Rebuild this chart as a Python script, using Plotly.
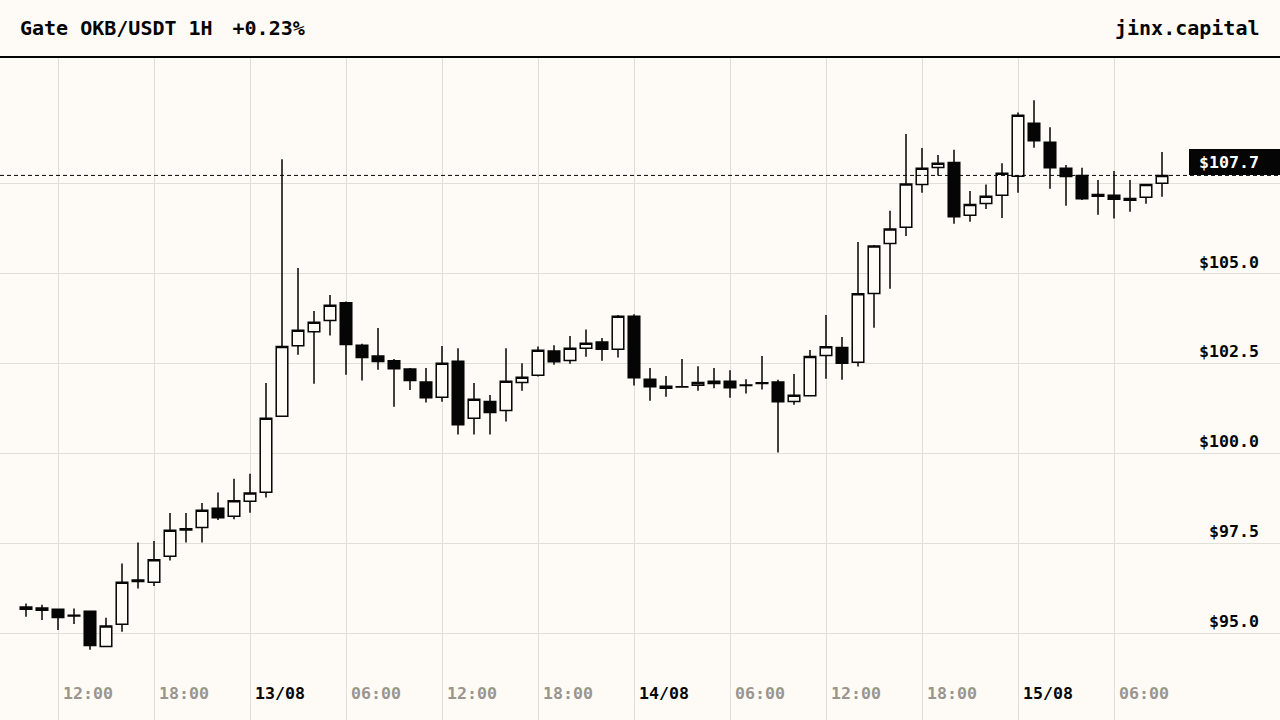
import pandas as pd
import plotly.graph_objects as go

# hourly OKB/USDT candles, 12/08 10:00 -> 15/08 09:00
times = pd.date_range("2024-08-12 10:00", periods=72, freq="h")

opens = [95.67, 95.70, 95.67, 95.50, 95.61, 94.63, 95.25, 96.48, 96.42, 97.14, 97.87, 97.94,
         98.47, 98.25, 98.67, 98.92, 101.03, 102.99, 103.38, 103.69, 104.18, 103.00, 102.70, 102.57,
         102.34, 101.98, 101.56, 102.56, 100.97, 101.44, 101.19, 101.97, 102.17, 102.84, 102.58, 102.92,
         103.09, 102.89, 103.81, 102.06, 101.81, 101.84, 101.89, 101.94, 102.00, 101.88, 101.94, 101.98,
         101.44, 101.60, 102.72, 102.94, 102.53, 104.44, 105.83, 106.28, 107.47, 107.94, 108.08, 106.61,
         106.94, 107.17, 107.70, 109.17, 108.64, 107.92, 107.72, 107.14, 107.17, 107.03, 107.11, 107.50]
highs = [95.83, 95.79, 95.67, 95.69, 95.61, 95.43, 96.94, 97.52, 97.56, 98.34, 98.34, 98.62,
         98.91, 99.29, 99.43, 101.95, 108.17, 105.15, 103.95, 104.40, 104.22, 103.04, 103.48, 102.62,
         102.37, 102.37, 102.98, 102.92, 101.95, 101.62, 102.92, 102.50, 102.97, 103.00, 103.26, 103.44,
         103.20, 103.84, 103.86, 102.37, 102.15, 102.62, 102.42, 102.37, 102.31, 102.06, 102.70, 102.04,
         102.20, 102.87, 103.84, 103.23, 105.87, 105.79, 106.74, 108.87, 108.48, 108.29, 108.43, 107.29,
         107.47, 108.06, 109.47, 109.81, 109.06, 108.01, 107.93, 107.59, 107.84, 107.59, 107.47, 108.37]
lows = [95.46, 95.37, 95.09, 95.26, 94.54, 94.63, 95.04, 96.24, 96.31, 97.02, 97.52, 97.52,
        98.15, 98.17, 98.35, 98.77, 101.03, 102.74, 101.93, 103.27, 102.18, 102.02, 102.32, 101.29,
        101.76, 101.41, 101.43, 100.52, 100.52, 100.52, 100.88, 101.74, 102.13, 102.46, 102.49, 102.68,
        102.57, 102.66, 101.88, 101.46, 101.57, 101.84, 101.74, 101.81, 101.54, 101.66, 101.77, 100.02,
        101.35, 101.60, 102.07, 102.04, 102.41, 103.49, 104.57, 106.04, 107.24, 107.72, 106.38, 106.43,
        106.79, 106.54, 107.24, 108.49, 107.35, 106.88, 107.04, 106.63, 106.52, 106.71, 106.93, 107.13]
closes = [95.73, 95.64, 95.44, 95.48, 94.66, 95.20, 96.42, 96.44, 97.04, 97.86, 97.90, 98.42,
          98.21, 98.68, 98.90, 100.97, 102.97, 103.42, 103.64, 104.11, 103.02, 102.66, 102.55, 102.35,
          102.02, 101.54, 102.50, 100.79, 101.50, 101.13, 102.00, 102.11, 102.86, 102.54, 102.92, 103.06,
          102.89, 103.81, 102.10, 101.85, 101.86, 101.85, 101.97, 102.00, 101.82, 101.90, 101.96, 101.43,
          101.61, 102.69, 102.96, 102.50, 104.43, 105.76, 106.23, 107.48, 107.92, 108.06, 106.57, 106.91,
          107.14, 107.78, 109.39, 108.68, 107.93, 107.69, 107.07, 107.19, 107.06, 107.08, 107.47, 107.72]

x_tickvals = pd.date_range("2024-08-12 12:00", "2024-08-15 06:00", freq="6h")
x_ticklabels = ["12:00", "18:00", "13/08", "06:00", "12:00", "18:00",
                "14/08", "06:00", "12:00", "18:00", "15/08", "06:00"]
y_tickvals = [95.0, 97.5, 100.0, 102.5, 105.0, 107.5]
y_ticklabels = ["$95.0", "$97.5", "$100.0", "$102.5", "$105.0", ""]  # 107.5 hidden under price tag

BG = "#fefbf6"
GRID = "#e2ded8"
GREY = "#9b958d"
INK = "#050505"
MONO = "DejaVu Sans Mono"

last = closes[-1]
change = (closes[-1] / closes[-2] - 1) * 100

x_text = [t if "/" in t else f"<span style='color:{GREY}'>{t}</span>" for t in x_ticklabels]

fig = go.Figure(go.Candlestick(
    x=times, open=opens, high=highs, low=lows, close=closes,
    increasing=dict(line=dict(color=INK, width=1.5), fillcolor=BG),
    decreasing=dict(line=dict(color=INK, width=1.5), fillcolor=INK),
    whiskerwidth=0,
    hoverinfo="skip",
))

# last price: dashed line + tag
fig.add_shape(type="line", xref="paper", x0=0, x1=1, y0=last, y1=last,
              line=dict(color=INK, width=1, dash="4px,3px"))
fig.add_annotation(xref="paper", x=1, xanchor="right", y=last, yanchor="bottom",
                   text=f"${last:.1f}\u00a0\u00a0", align="right", width=89, height=24,
                   bgcolor=INK, bordercolor=INK, borderwidth=1, borderpad=0, showarrow=False,
                   font=dict(family=MONO, size=16.6, color="white", weight="bold"))

# header bar
fig.add_shape(type="line", xref="paper", yref="paper", x0=0, x1=1, y0=1, y1=1,
              line=dict(color=INK, width=2))
fig.add_annotation(xref="paper", yref="paper", x=0, y=1, xanchor="left", yanchor="middle",
                   xshift=18, yshift=29, showarrow=False,
                   text=f"Gate OKB/USDT 1H<span style='font-size:13px'>\u00a0</span> {change:+.2f}%",
                   font=dict(family=MONO, size=20, color=INK, weight="bold"))
fig.add_annotation(xref="paper", yref="paper", x=1, y=1, xanchor="right", yanchor="middle",
                   xshift=-18, yshift=29, showarrow=False, text="jinx.capital",
                   font=dict(family=MONO, size=20, color=INK, weight="bold"))

fig.update_layout(
    width=1280, height=720,
    paper_bgcolor=BG, plot_bgcolor=BG,
    margin=dict(l=0, r=0, t=57, b=0),
    showlegend=False,
    boxgap=0.15, boxgroupgap=0.15,
)
fig.update_xaxes(
    type="date", range=["2024-08-12 08:22:30", "2024-08-15 16:22:30"],
    rangeslider_visible=False,
    tickvals=x_tickvals, ticktext=x_text,
    ticklabelposition="inside right", ticklabelstandoff=12, ticklabelshift=5, ticks="",
    tickfont=dict(family=MONO, size=16.6, color=INK, weight="bold"),
    showgrid=True, gridcolor=GRID, gridwidth=1, zeroline=False, showline=False,
)
fig.update_yaxes(
    range=[92.59, 111.01], side="right",
    tickvals=y_tickvals, ticktext=y_ticklabels,
    ticklabelposition="inside top", ticklabelstandoff=18, ticks="",
    tickfont=dict(family=MONO, size=16.6, color=INK, weight="bold"),
    showgrid=True, gridcolor=GRID, gridwidth=1, zeroline=False, showline=False,
)

# drop the browser's default 8px body margin so the figure sits at the window corner
fig.write_html("out.html", config={"displayModeBar": False},
               post_script="document.body.style.margin='0';document.body.style.background='%s';" % BG)
